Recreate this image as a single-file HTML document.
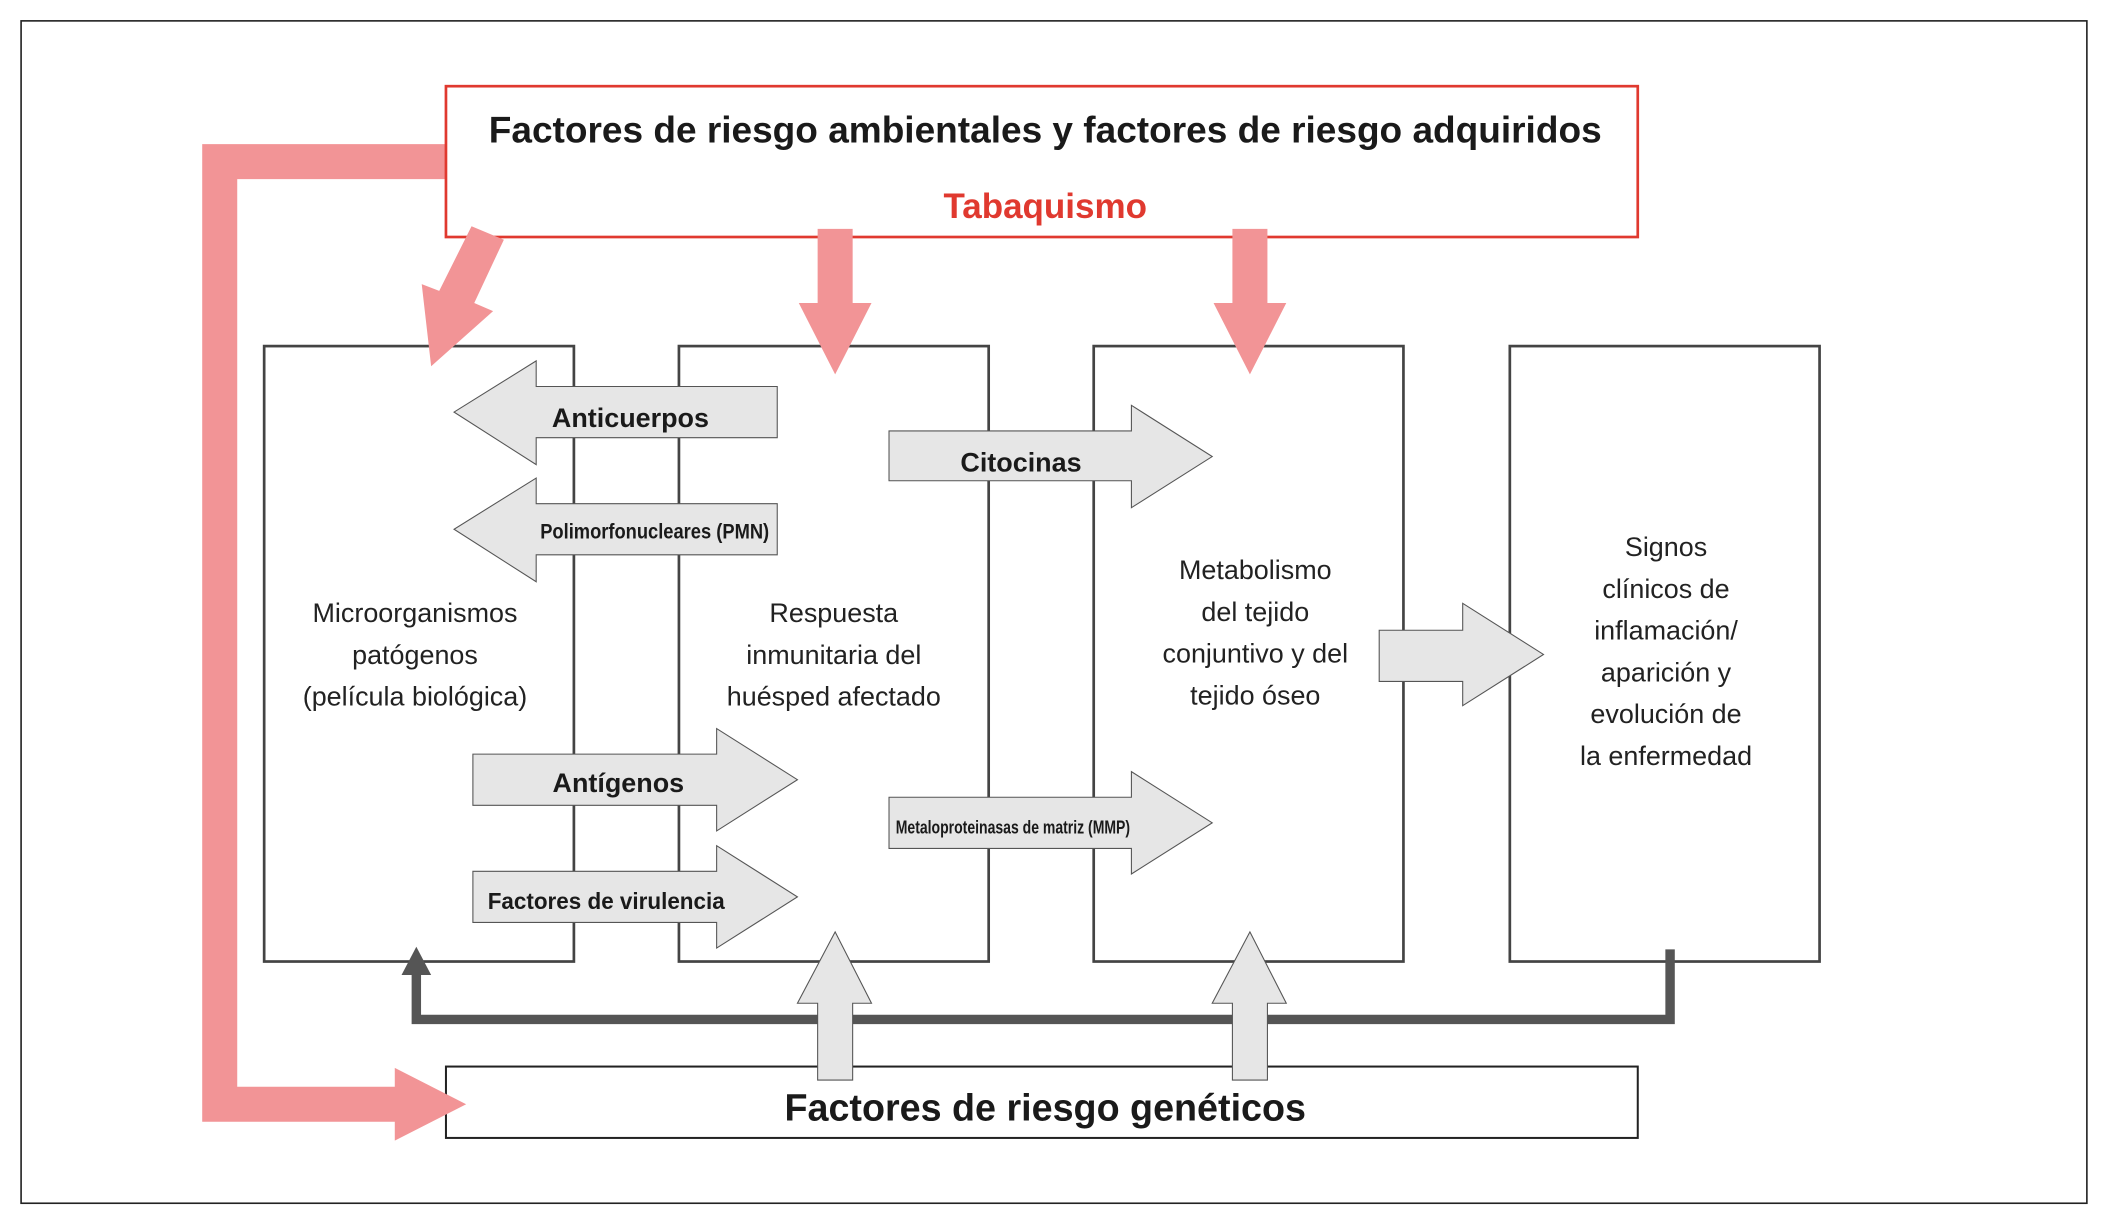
<!DOCTYPE html>
<html><head><meta charset="utf-8"><style>
html,body{margin:0;padding:0;background:#fff;}
svg{display:block;}
text{font-family:"Liberation Sans",sans-serif;}
</style></head><body>
<svg width="2112" height="1212" viewBox="0 0 1568 900" xmlns="http://www.w3.org/2000/svg">
<rect x="15.5" y="15.5" width="1534" height="878" fill="#fff" stroke="#222" stroke-width="1.2"/>

<g fill="none" stroke="#444" stroke-width="2">
<rect x="196" y="257" width="230" height="457"/>
<rect x="504" y="257" width="230" height="457"/>
<rect x="812" y="257" width="230" height="457"/>
<rect x="1121" y="257" width="230" height="457"/>
</g>

<polyline points="1240,705 1240,757 309,757 309,722" fill="none" stroke="#555" stroke-width="7"/>
<polygon points="309,703 298,724 320,724" fill="#555"/>

<rect x="331" y="792" width="885" height="53" fill="#fff" stroke="#222" stroke-width="1.5"/>
<text x="776" y="832" font-size="28" font-weight="bold" text-anchor="middle" fill="#1a1a1a">Factores de riesgo genéticos</text>

<polyline points="342,120 163,120 163,820 300,820" fill="none" stroke="#f29496" stroke-width="26" stroke-linejoin="miter"/>
<polygon points="293,793 346,820 293,847" fill="#f29496"/>

<rect x="331" y="64" width="885" height="112" fill="#fff" stroke="#e0392f" stroke-width="2"/>
<text x="776" y="106" font-size="27.5" font-weight="bold" text-anchor="middle" fill="#1a1a1a">Factores de riesgo ambientales y factores de riesgo adquiridos</text>
<text x="776" y="162" font-size="26" font-weight="bold" text-anchor="middle" fill="#e0392f">Tabaquismo</text>

<g fill="#f29496">
<polygon points="607,170 633,170 633,225 647,225 620,278 593,225 607,225"/>
<polygon points="915,170 941,170 941,225 955,225 928,278 901,225 915,225"/>
<polygon points="374,178 350,168 326,216 313,211 320,272 366,231 352,225"/>
</g>

<g fill="#e6e6e6" stroke="#555" stroke-width="0.8">
<polygon points="577,287 577,325 398,325 398,345 337,306 398,268 398,287"/>
<polygon points="577,374 577,412 398,412 398,432 337,393 398,355 398,374"/>
<polygon points="660,320 840,320 840,301 900,339 840,377 840,357 660,357"/>
<polygon points="351,560 532,560 532,541 592,579 532,617 532,598 351,598"/>
<polygon points="351,647 532,647 532,628 592,666 532,704 532,685 351,685"/>
<polygon points="660,592 840,592 840,573 900,611 840,649 840,630 660,630"/>
<polygon points="1024,468 1086,468 1086,448 1146,486 1086,524 1086,506 1024,506"/>
<polygon points="607,802 607,745 592,745 620,692 647,745 633,745 633,802"/>
<polygon points="915,802 915,745 900,745 928,692 955,745 941,745 941,802"/>
</g>
<g font-weight="bold" fill="#1a1a1a" text-anchor="middle">
<text x="468" y="317" font-size="20">Anticuerpos</text>
<text x="486" y="400" font-size="16" textLength="170" lengthAdjust="spacingAndGlyphs">Polimorfonucleares (PMN)</text>
<text x="758" y="350" font-size="20">Citocinas</text>
<text x="459" y="588" font-size="20">Antígenos</text>
<text x="450" y="675" font-size="17" textLength="176" lengthAdjust="spacingAndGlyphs">Factores de virulencia</text>
<text x="752" y="619" font-size="14" textLength="174" lengthAdjust="spacingAndGlyphs">Metaloproteinasas de matriz (MMP)</text>
</g>

<g font-size="20" fill="#222" text-anchor="middle">
<text x="308" y="462">Microorganismos</text>
<text x="308" y="493">patógenos</text>
<text x="308" y="524">(película biológica)</text>
<text x="619" y="462">Respuesta</text>
<text x="619" y="493">inmunitaria del</text>
<text x="619" y="524">huésped afectado</text>
<text x="932" y="430">Metabolismo</text>
<text x="932" y="461">del tejido</text>
<text x="932" y="492">conjuntivo y del</text>
<text x="932" y="523">tejido óseo</text>
<text x="1237" y="413">Signos</text>
<text x="1237" y="444">clínicos de</text>
<text x="1237" y="475">inflamación/</text>
<text x="1237" y="506">aparición y</text>
<text x="1237" y="537">evolución de</text>
<text x="1237" y="568">la enfermedad</text>
</g>
</svg>
</body></html>
